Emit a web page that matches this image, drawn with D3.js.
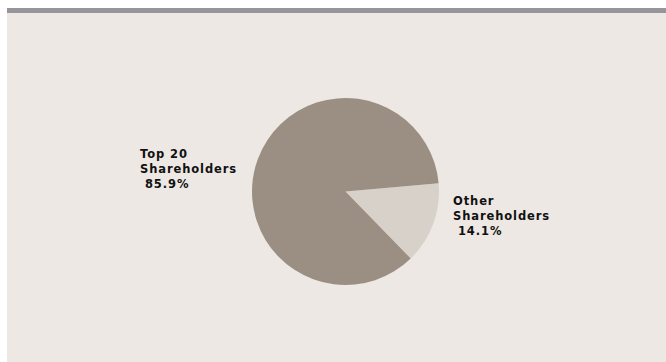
<!DOCTYPE html>
<html>
<head>
<meta charset="utf-8">
<script src="https://cdn.jsdelivr.net/npm/d3@7/dist/d3.min.js"></script>
<style>
  html, body { margin: 0; padding: 0; background: #ffffff; }
  svg { display: block; }
</style>
</head>
<body>
<svg id="chart" width="666" height="362"></svg>
<script>
// Shareholding structure
const categories = ["Other Shareholders", "Top 20 Shareholders"];
const shares = [14.1, 85.9];
const labelLines = [["Other", "Shareholders", " 14.1%"], ["Top 20", "Shareholders", " 85.9%"]];
const colors = ["#d8d1ca", "#9b8f84"];

const svg = d3.select("#chart");
const W = 666, H = 362;

// panel background and top rule
svg.append("rect").attr("x", 7).attr("y", 13).attr("width", W - 7).attr("height", H - 13).attr("fill", "#ede8e4");
svg.append("rect").attr("x", 7).attr("y", 8).attr("width", W - 7).attr("height", 5).attr("fill", "#96959a");

const cx = 345.5, cy = 191.5, r = 93.5;
const start = 85 * Math.PI / 180;

const pie = d3.pie().sort(null).value(d => d)
  .startAngle(start).endAngle(start + 2 * Math.PI);
const arcs = pie(shares);
const arc = d3.arc().innerRadius(0).outerRadius(r);

const g = svg.append("g").attr("transform", `translate(${cx},${cy})`);
g.selectAll("path").data(arcs).join("path")
  .attr("d", arc)
  .attr("fill", (d, i) => colors[i]);

// labels beside the pie
const labelPos = [{ x: 453, y: 205 }, { x: 140, y: 158 }];
const lineGap = 15;
labelLines.forEach((lines, i) => {
  const t = svg.append("text")
    .attr("font-family", "'DejaVu Sans', sans-serif")
    .attr("font-size", 11.5)
    .attr("font-weight", "bold")
    .attr("letter-spacing", 0.9)
    .attr("fill", "#111");
  lines.forEach((s, j) => {
    t.append("tspan")
      .attr("x", labelPos[i].x)
      .attr("y", labelPos[i].y + j * lineGap)
      .attr("xml:space", "preserve")
      .text(s);
  });
});
</script>
</body>
</html>
